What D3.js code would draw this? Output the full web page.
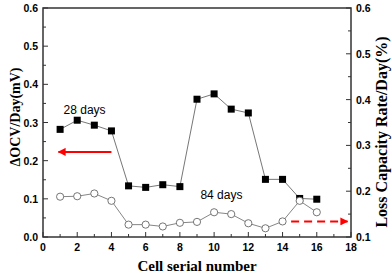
<!DOCTYPE html>
<html><head><meta charset="utf-8">
<script src="https://cdn.jsdelivr.net/npm/d3@7"></script>
<style>body{margin:0;background:#fff}svg{display:block}</style>
</head><body>
<svg id="c" width="392" height="277"></svg>
<script>
const cells = [1,2,3,4,5,6,7,8,9,10,11,12,13,14,15,16];
const ocv28 = [0.282,0.306,0.293,0.278,0.134,0.130,0.137,0.132,0.361,0.375,0.335,0.325,0.151,0.151,0.101,0.099];
const loss84 = [0.188,0.189,0.195,0.179,0.127,0.127,0.123,0.131,0.133,0.154,0.150,0.130,0.119,0.134,0.179,0.154];
const xTicks = [0,2,4,6,8,10,12,14,16,18];
const leftTicks = [0.0,0.1,0.2,0.3,0.4,0.5,0.6];
const rightTicks = [0.1,0.2,0.3,0.4,0.5,0.6];
const labels = {x:"Cell serial number", yl:"\u0394OCV/Day(mV)", yr:"Loss Capacity Rate/Day(%)", a:"28 days", b:"84 days"};

const svg = d3.select("#c");
const L=43, R=351, T=8, B=237;
const x = d3.scaleLinear().domain([0,18]).range([L,R]);
const yl = d3.scaleLinear().domain([0,0.6]).range([B,T]);
const yr = d3.scaleLinear().domain([0.1,0.6]).range([B,T]);
const axc = "#333";

// frame
svg.append("rect").attr("x",L).attr("y",T).attr("width",R-L).attr("height",B-T)
  .attr("fill","none").attr("stroke",axc).attr("stroke-width",1.5);

// ticks
const tickG = svg.append("g").attr("stroke",axc).attr("stroke-width",1);
d3.range(0,19,1).forEach(v=>{
  const len = v%2===0?5:3;
  tickG.append("line").attr("x1",x(v)).attr("x2",x(v)).attr("y1",B).attr("y2",B-len);
});
d3.range(0,0.6001,0.05).forEach((v,i)=>{
  const len = i%2===0?5:3;
  tickG.append("line").attr("x1",L).attr("x2",L+len).attr("y1",yl(v)).attr("y2",yl(v));
});
d3.range(0.1,0.6001,0.05).forEach((v,i)=>{
  const len = i%2===0?5:3;
  tickG.append("line").attr("x1",R).attr("x2",R-len).attr("y1",yr(v)).attr("y2",yr(v));
});

const tf = "Arial, 'Liberation Sans', sans-serif";
svg.append("g").selectAll("text").data(xTicks).join("text")
  .attr("x",d=>x(d)).attr("y",B+14).attr("text-anchor","middle")
  .attr("font-family",tf).attr("font-weight","bold").attr("font-size",10.5).text(d=>d);
svg.append("g").selectAll("text").data(leftTicks).join("text")
  .attr("x",L-5).attr("y",d=>yl(d)+4).attr("text-anchor","end")
  .attr("font-family",tf).attr("font-weight","bold").attr("font-size",10.5).text(d=>d.toFixed(1));
svg.append("g").selectAll("text").data(rightTicks).join("text")
  .attr("x",R+5).attr("y",d=>yr(d)+4).attr("text-anchor","start")
  .attr("font-family",tf).attr("font-weight","bold").attr("font-size",10.5).text(d=>d.toFixed(1));

const sf = "'Times New Roman', 'Liberation Serif', serif";
svg.append("text").attr("x",197).attr("y",271).attr("text-anchor","middle")
  .attr("font-family",sf).attr("font-weight","bold").attr("font-size",15).text(labels.x);
svg.append("text").attr("transform",`translate(20,117) rotate(-90)`).attr("text-anchor","middle")
  .attr("font-family",sf).attr("font-weight","bold").attr("font-size",14).text(labels.yl);
svg.append("text").attr("transform",`translate(387,132) rotate(-90)`).attr("text-anchor","middle")
  .attr("font-family",sf).attr("font-weight","bold").attr("font-size",16).text(labels.yr);

// series
const lineL = d3.line().x((d,i)=>x(cells[i])).y(d=>yl(d));
const lineR = d3.line().x((d,i)=>x(cells[i])).y(d=>yr(d));
svg.append("path").attr("d",lineL(ocv28)).attr("fill","none").attr("stroke","#666").attr("stroke-width",0.9);
svg.append("path").attr("d",lineR(loss84)).attr("fill","none").attr("stroke","#777").attr("stroke-width",0.9);
svg.append("g").selectAll("rect").data(ocv28).join("rect")
  .attr("x",(d,i)=>x(cells[i])-3.5).attr("y",d=>yl(d)-3.5).attr("width",7).attr("height",7).attr("fill","#000");
svg.append("g").selectAll("circle").data(loss84).join("circle")
  .attr("cx",(d,i)=>x(cells[i])).attr("cy",d=>yr(d)).attr("r",3.6)
  .attr("fill","#fff").attr("stroke","#666").attr("stroke-width",0.9);

// annotations
svg.append("text").attr("x",x(1.2)).attr("y",yl(0.323)).attr("font-family",tf).attr("font-size",12).text(labels.a);
svg.append("text").attr("x",x(9.2)).attr("y",yr(0.182)).attr("font-family",tf).attr("font-size",12).text(labels.b);

// arrows
const defs = svg.append("defs");
defs.append("marker").attr("id","ah").attr("viewBox","0 0 10 10").attr("refX",9).attr("refY",5)
  .attr("markerWidth",4).attr("markerHeight",4).attr("orient","auto")
  .append("path").attr("d","M0,0L10,5L0,10z").attr("fill","#f00");
svg.append("line").attr("x1",x(4.0)).attr("x2",x(0.9)).attr("y1",yl(0.223)).attr("y2",yl(0.223))
  .attr("stroke","#f00").attr("stroke-width",2).attr("marker-end","url(#ah)");
svg.append("line").attr("x1",x(14.5)).attr("x2",x(17.8)).attr("y1",yr(0.134)).attr("y2",yr(0.134))
  .attr("stroke","#f00").attr("stroke-width",2).attr("stroke-dasharray","8,5").attr("marker-end","url(#ah)");
</script>
</body></html>
